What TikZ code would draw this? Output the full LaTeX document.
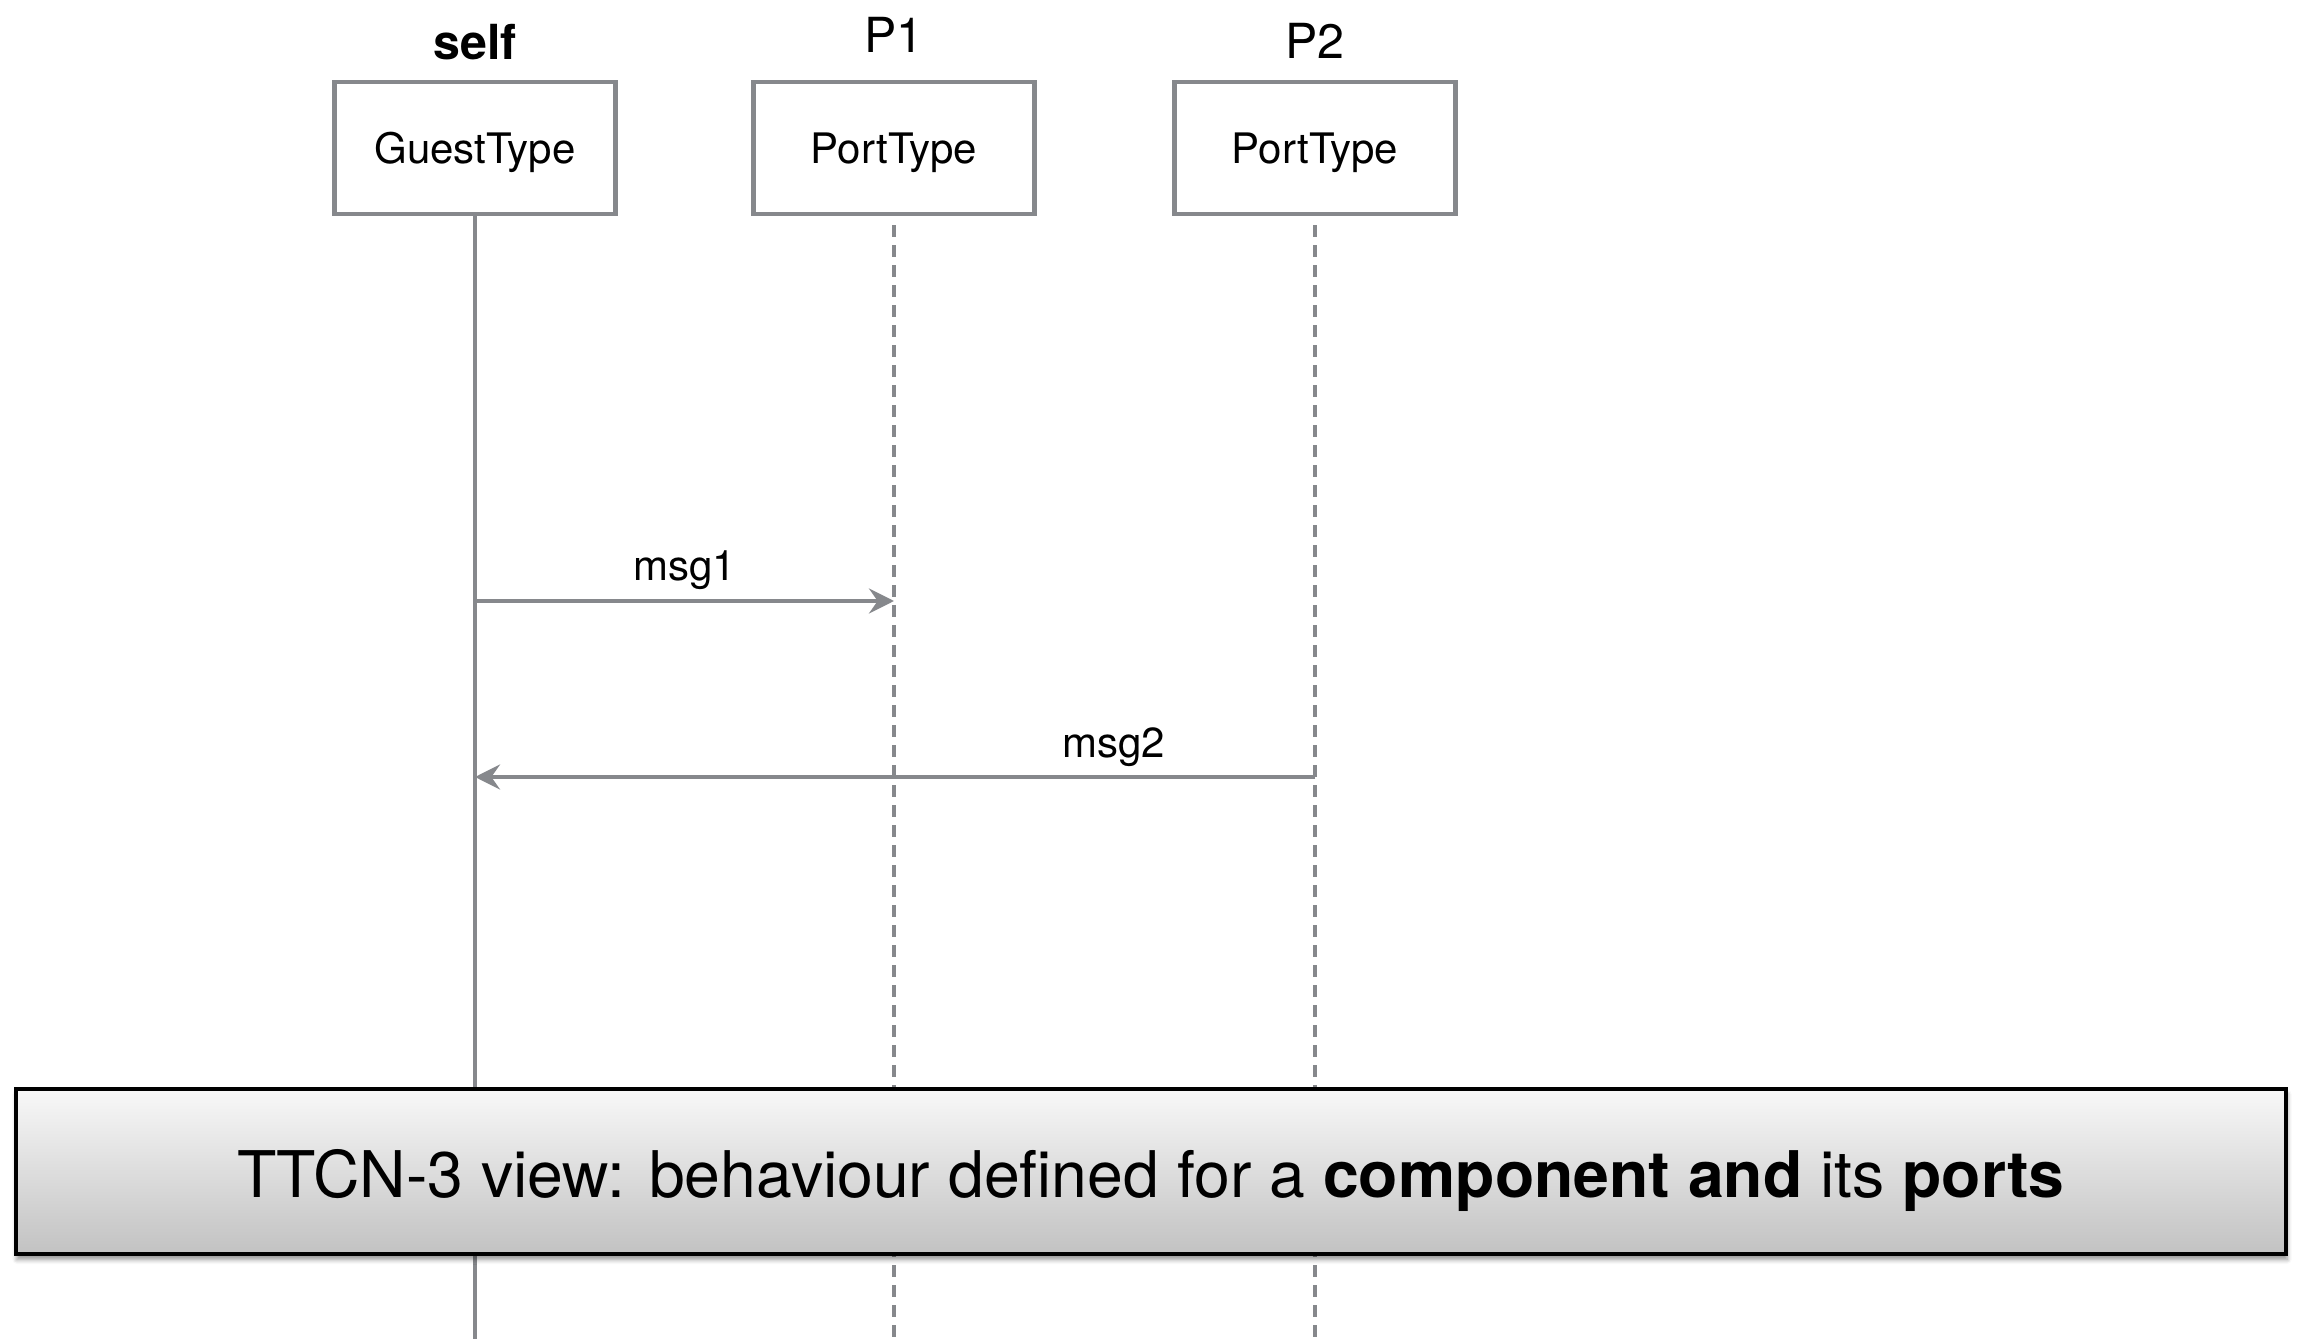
\documentclass[tikz,border=0pt]{standalone}
\usepackage{fontspec}
\setmainfont{TeX Gyre Heros}
\usepackage{xcolor}
\usepackage{tikz}
\usetikzlibrary{arrows.meta,positioning,shadows.blur}

\definecolor{linegray}{RGB}{134,136,140}
\definecolor{notetop}{RGB}{248,248,248}
\definecolor{notebottom}{RGB}{194,194,194}

\tikzset{
  objbox/.style={draw=linegray, line width=1.4pt, fill=white,
    minimum width=84.3pt, minimum height=39.6pt, inner sep=0pt,
    text height=9.6pt, text depth=0pt,
    font=\fontsize{12.6}{15}\selectfont},
  objname/.style={anchor=base, inner sep=0.75pt, font=\fontsize{14.5}{17}\selectfont},
  lifeline/.style={draw=linegray, line width=1.3pt},
  portline/.style={lifeline, dash pattern={on 3.6pt off 2.4pt}},
  msg/.style={draw=linegray, line width=1.4pt, -{Stealth[length=7.5pt,width=7.5pt,inset=2.6pt]}},
  msglabel/.style={anchor=base, yshift=6pt, inner sep=0.75pt, font=\fontsize{12.6}{15}\selectfont},
  notebox/.style={draw=black, line width=1pt, top color=notetop, bottom color=notebottom,
    minimum width=681pt, minimum height=49.5pt, inner sep=0pt,
    text height=15.3pt, text depth=0pt,
    font=\fontsize{19.3}{23}\selectfont,
    blur shadow={shadow xshift=0.3pt, shadow yshift=-1.6pt, shadow blur radius=1.4pt, shadow opacity=45}}
}

\begin{document}
\begin{tikzpicture}[x=0.3pt,y=-0.3pt]
\useasboundingbox (0,0) rectangle (2299,1339);
\coordinate (bottom) at (0,1339);

%Shape: component and port boxes
\node[objbox] (guest) at (475,148) {GuestType};
\node[objbox] (port1) at (894,148) {PortType};
\node[objbox] (port2) at (1315,148) {PortType};

% Text Node
\node[objname, font=\fontsize{14.5}{17}\selectfont\bfseries] (selfname) at (475,60) {self};
% Text Node
\node[objname] (p1name) at (894,53) {P1};
% Text Node
\node[objname] (p2name) at (1315,59) {P2};

%Straight Lines: life lines
\draw[lifeline] (guest.south) -- (guest.south |- bottom);
\draw[portline] ([yshift=-2.7pt]port1.south) -- (port1.south |- bottom);
\draw[portline] ([yshift=-2.7pt]port2.south) -- (port2.south |- bottom);

%Straight Lines: messages
\coordinate (m1from) at (guest.south |- 0,601);
\coordinate (m1to) at (port1.south |- 0,601);
\coordinate (m2from) at (port2.south |- 0,777);
\coordinate (m2to) at (guest.south |- 0,777);
\draw[msg] (m1from) -- node[msglabel] (msg1) {msg1} (m1to);
\draw[msg] (m2from) -- node[msglabel, pos=0.24] (msg2) {msg2} (m2to);

% Text Node: note across the diagram
\node[notebox] (note) at (1151,1171.5)
  {TTCN-3 view: behaviour defined for a \textbf{component and} its \textbf{ports}};

\end{tikzpicture}
\end{document}
